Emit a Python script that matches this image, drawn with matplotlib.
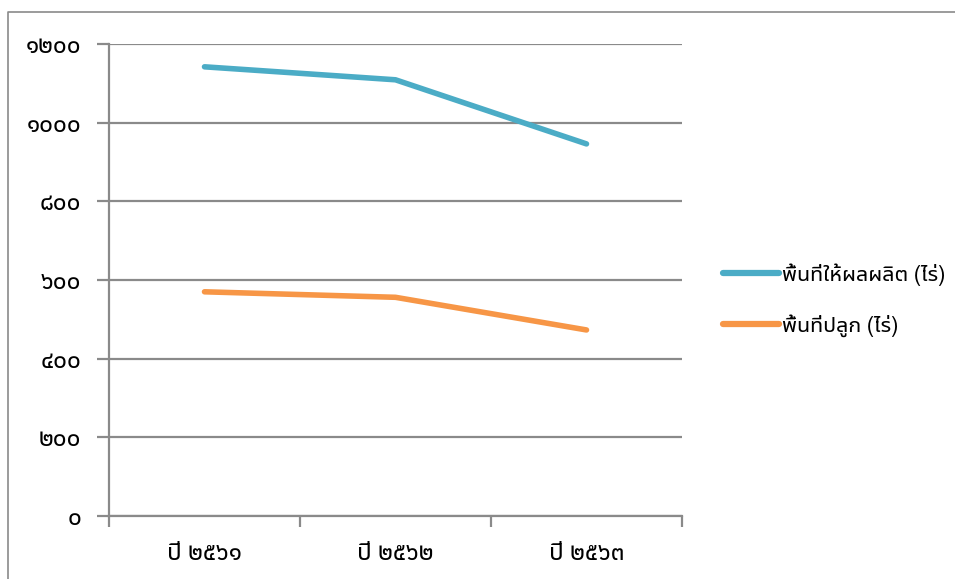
import matplotlib
matplotlib.use("Agg")
import matplotlib.pyplot as plt
from matplotlib.lines import Line2D

plt.rcParams['font.family'] = ['Noto Sans Thai UI', 'Loma', 'DejaVu Sans']

years = ["ปี ๒๕๖๑", "ปี ๒๕๖๒", "ปี ๒๕๖๓"]
yield_area = [1142, 1109, 946]
planted_area = [570, 556, 473]
series_names = ["พื้นที่ให้ผลผลิต (ไร่)", "พื้นที่ปลูก (ไร่)"]
y_ticks = [0, 200, 400, 600, 800, 1000, 1200]

thai_digits = str.maketrans("0123456789", "๐๑๒๓๔๕๖๗๘๙")

grey = "#8a8a8a"
blue = "#4BACC6"
orange = "#F79646"

fig = plt.figure(figsize=(9.55, 5.79), dpi=100)
W, H = 955, 579
ax = fig.add_axes([109 / W, 1 - 516 / H, (682 - 109) / W, (516 - 44) / H])

# outer chart border, only left and top edges are visible
fig.add_artist(Line2D([8 / W, 8 / W, 1.0], [0.0, 1 - 12 / H, 1 - 12 / H],
                      transform=fig.transFigure, color=grey, lw=1.2))

x = [0.5, 1.5, 2.5]
ax.plot(x, yield_area, color=blue, lw=4, solid_capstyle="round",
        solid_joinstyle="round", label=series_names[0], zorder=3)
ax.plot(x, planted_area, color=orange, lw=4, solid_capstyle="round",
        solid_joinstyle="round", label=series_names[1], zorder=3)

ax.set_xlim(0, 3)
ax.set_ylim(0, 1200)
ax.set_yticks(y_ticks)
ax.set_yticklabels([str(v).translate(thai_digits) for v in y_ticks])
ax.yaxis.grid(True, color=grey, lw=1.6)
ax.set_axisbelow(True)

ax.set_xticks([0, 1, 2, 3])
ax.set_xticklabels([])
ax.set_xticks(x, minor=True)
ax.set_xticklabels(years, minor=True)
ax.tick_params(axis="x", which="minor", length=0, pad=19, labelsize=17.5)
ax.tick_params(axis="x", which="major", length=8, width=1.6, color=grey)
ax.tick_params(axis="y", length=9, width=1.6, color=grey, pad=11, labelsize=17.5)

for s in ["top", "right"]:
    ax.spines[s].set_visible(False)
for s in ["left", "bottom"]:
    ax.spines[s].set_color(grey)
    ax.spines[s].set_linewidth(1.6)

handles = [Line2D([], [], color=blue, lw=4.5, solid_capstyle="round"),
           Line2D([], [], color=orange, lw=4.5, solid_capstyle="round")]
fig.legend(handles, series_names, loc="center left",
           bbox_to_anchor=(704 / W, 1 - 300 / H), frameon=False,
           fontsize=15.5, handlelength=2.6, handletextpad=0.1,
           labelspacing=1.3)

fig.savefig("out.png")
